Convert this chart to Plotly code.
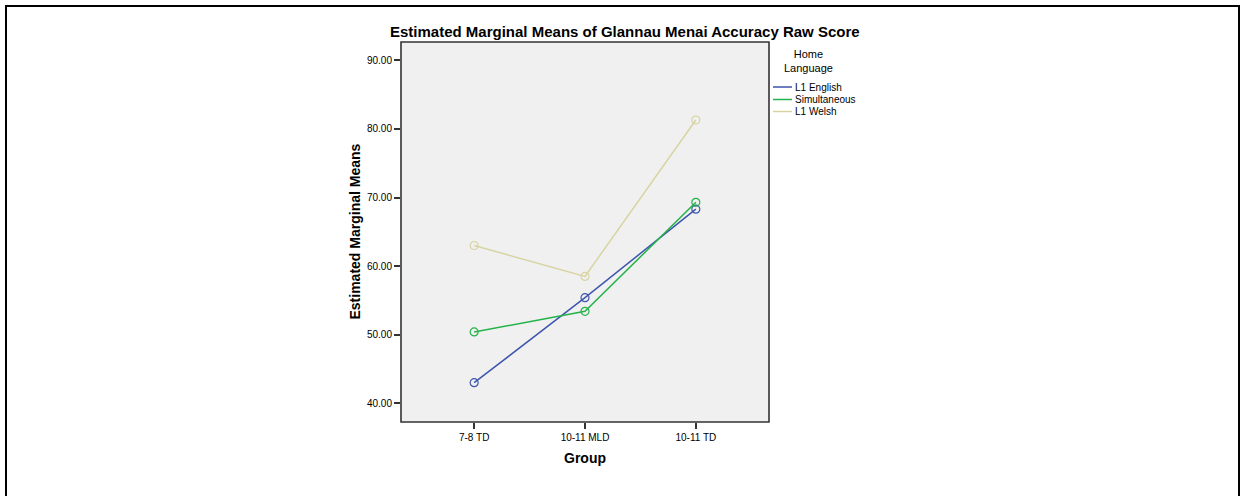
import plotly.graph_objects as go

groups = ["7-8 TD", "10-11 MLD", "10-11 TD"]
series_names = ["L1 English", "Simultaneous", "L1 Welsh"]
l1_english = [43.0, 55.4, 68.3]
simultaneous = [50.4, 53.4, 69.3]
l1_welsh = [63.0, 58.5, 81.3]
y_ticks = [40, 50, 60, 70, 80, 90]
y_tick_labels = ["40.00", "50.00", "60.00", "70.00", "80.00", "90.00"]

colors = ["#3d55ab", "#24b34a", "#d8d4a2"]
values = [l1_english, simultaneous, l1_welsh]

W, H = 1240, 496
L, R, T, B = 401, 769, 42, 422
pw, ph = R - L, B - T

def px(x):
    return (x - L) / pw

def py(y):
    return (B - y) / ph

FONT = "Liberation Sans, Arial, sans-serif"

fig = go.Figure()
for name, vals, c in zip(series_names, values, colors):
    fig.add_trace(go.Scatter(
        x=[0, 1, 2], y=vals, name=name, mode="lines+markers",
        line=dict(color=c, width=1.5),
        marker=dict(symbol="circle-open", size=8, color=c, line=dict(width=1.2, color=c)),
        showlegend=False,
    ))

shapes = []
annotations = []
# plot frame
shapes.append(dict(type="rect", xref="paper", yref="paper", x0=0, x1=1, y0=0, y1=1,
                   line=dict(color="#333333", width=1.6), fillcolor="rgba(0,0,0,0)", layer="above"))
# outer border
shapes.append(dict(type="rect", xref="paper", yref="paper", x0=px(6), x1=px(1239), y0=py(6), y1=py(520),
                   line=dict(color="#000000", width=2), fillcolor="rgba(0,0,0,0)"))
# legend
annotations.append(dict(text="Home<br>Language", xref="paper", yref="paper", x=px(808), y=py(61),
                        xanchor="center", yanchor="middle", showarrow=False,
                        font=dict(family=FONT, size=11, color="#000")))
leg_y = [87, 99.5, 111.5]
for name, c, yy in zip(series_names, colors, leg_y):
    shapes.append(dict(type="line", xref="paper", yref="paper", x0=px(773), x1=px(792), y0=py(yy), y1=py(yy),
                       line=dict(color=c, width=1.5)))
    annotations.append(dict(text=name, xref="paper", yref="paper", x=px(793), y=py(yy),
                            xanchor="left", yanchor="middle", showarrow=False,
                            font=dict(family=FONT, size=10, color="#000")))
# titles
annotations.append(dict(text="<b>Estimated Marginal Means of Glannau Menai Accuracy Raw Score</b>",
                        xref="paper", yref="paper", x=px(625), y=py(31), xanchor="center", yanchor="middle",
                        showarrow=False, font=dict(family=FONT, size=15, color="#000")))
annotations.append(dict(text="<b>Estimated Marginal Means</b>", xref="paper", yref="paper",
                        x=px(354), y=py(231.5), xanchor="center", yanchor="middle", textangle=-90,
                        showarrow=False, font=dict(family=FONT, size=14, color="#000")))
annotations.append(dict(text="<b>Group</b>", xref="paper", yref="paper", x=px(585), y=py(458),
                        xanchor="center", yanchor="middle", showarrow=False,
                        font=dict(family=FONT, size=14, color="#000")))

fig.update_layout(
    width=W, height=H,
    margin=dict(l=L, r=W - R, t=T, b=H - B, pad=0),
    paper_bgcolor="#ffffff", plot_bgcolor="#f0f0f0",
    font=dict(family=FONT, size=10, color="#000"),
    shapes=shapes, annotations=annotations,
    xaxis=dict(range=[-0.66, 2.66], tickvals=[0, 1, 2], ticktext=groups,
               showgrid=False, zeroline=False, ticks="outside", ticklen=6, tickwidth=1.5,
               tickcolor="#333333", showline=False, tickfont=dict(size=10, family=FONT)),
    yaxis=dict(range=[37.27, 92.67], tickvals=y_ticks, ticktext=y_tick_labels,
               showgrid=False, zeroline=False, ticks="outside", ticklen=6, tickwidth=1.5,
               tickcolor="#333333", showline=False, tickfont=dict(size=10, family=FONT)),
)

fig.write_html("out.html", config={"displayModeBar": False},
               post_script="document.body.style.margin='0px';document.body.style.overflow='hidden';")
